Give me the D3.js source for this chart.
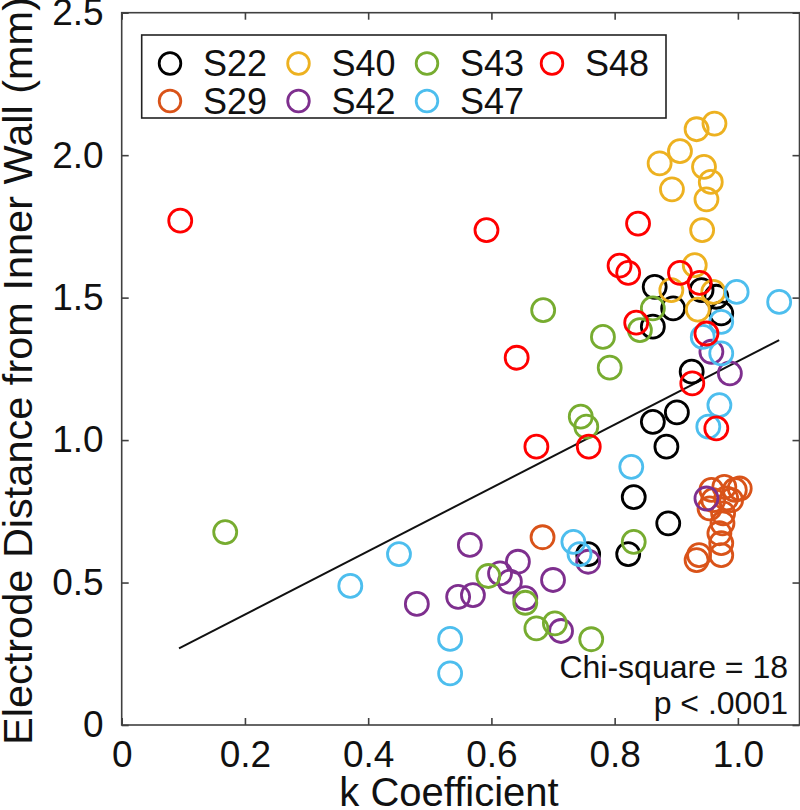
<!DOCTYPE html>
<html><head><meta charset="utf-8">
<script src="https://cdn.jsdelivr.net/npm/d3@7"></script>
<style>body{margin:0;background:#fff}svg{display:block}text{font-family:"Liberation Sans",Arial,sans-serif;fill:#111}</style>
</head><body>
<div id="chart"></div>
<script>
const seriesNames = ["S22","S29","S40","S42","S43","S47","S48"];
const seriesColors = ["#000000","#D95319","#EDB120","#7E2F8E","#77AC30","#4DBEEE","#FF0000"];
const S22 = [[0.865,1.538],[0.941,1.526],[0.965,1.503],[0.895,1.462],[0.973,1.445],[0.862,1.398],[0.925,1.240],[0.901,1.097],[0.862,1.064],[0.884,0.977],[0.831,0.800],[0.887,0.708],[0.757,0.600],[0.822,0.600]];
const S29 = [[0.683,0.659],[0.933,0.579],[0.937,0.596],[0.973,0.596],[0.973,0.638],[0.970,0.673],[0.975,0.708],[0.976,0.743],[0.954,0.760],[0.960,0.789],[0.981,0.795],[0.995,0.825],[1.003,0.830],[0.978,0.836],[0.957,0.825],[0.989,0.789]];
const S40 = [[0.962,2.111],[0.933,2.091],[0.906,2.014],[0.873,1.971],[0.945,1.959],[0.956,1.906],[0.893,1.880],[0.949,1.845],[0.942,1.737],[0.930,1.614],[0.892,1.526],[0.960,1.520],[0.935,1.458]];
const S42 = [[0.565,0.632],[0.643,0.573],[0.614,0.532],[0.630,0.503],[0.700,0.509],[0.570,0.456],[0.546,0.450],[0.479,0.425],[0.655,0.445],[0.713,0.330],[0.757,0.573],[0.957,1.310],[0.987,1.234],[0.949,0.795]];
const S43 = [[0.168,0.677],[0.684,1.456],[0.862,1.462],[0.841,1.386],[0.781,1.362],[0.792,1.254],[0.745,1.082],[0.754,1.047],[0.831,0.643],[0.595,0.523],[0.655,0.429],[0.673,0.339],[0.703,0.357],[0.762,0.301]];
const S47 = [[0.371,0.488],[0.450,0.600],[0.533,0.302],[0.533,0.181],[0.733,0.643],[0.743,0.600],[0.827,0.906],[0.952,1.047],[0.970,1.123],[0.973,1.304],[0.943,1.362],[0.973,1.415],[0.998,1.520],[1.067,1.485]];
const S48 = [[0.095,1.770],[0.592,1.737],[0.838,1.760],[0.808,1.612],[0.822,1.587],[0.906,1.587],[0.938,1.552],[0.835,1.412],[0.949,1.374],[0.641,1.289],[0.926,1.199],[0.673,0.977],[0.758,0.977],[0.965,1.041]];
const seriesData = [S22,S29,S40,S42,S43,S47,S48];
const fitLine = [[0.093,0.269],[1.067,1.351]];
const xTicks = [0,0.2,0.4,0.6,0.8,1.0];
const xTickLabels = ["0","0.2","0.4","0.6","0.8","1.0"];
const yTicks = [0,0.5,1.0,1.5,2.0,2.5];
const yTickLabels = ["0","0.5","1.0","1.5","2.0","2.5"];
const statLines = ["Chi-square = 18","p < .0001"];

const W=800,H=810;
const svg=d3.select("#chart").append("svg").attr("width",W).attr("height",H);
const x=d3.scaleLinear().domain([0,1.1]).range([121.7,799.5]);
const y=d3.scaleLinear().domain([0,2.5]).range([725,12.7]);
const axisColor="#404040";

svg.append("rect").attr("x",x(0)).attr("y",y(2.5)).attr("width",x(1.1)-x(0)).attr("height",y(0)-y(2.5))
  .attr("fill","none").attr("stroke",axisColor).attr("stroke-width",1.6);

const tl=7;
const xAxisB=d3.axisBottom(x).tickValues(xTicks).tickFormat((d,i)=>xTickLabels[i]).tickSizeInner(-tl).tickSizeOuter(0).tickPadding(16);
const gx=svg.append("g").attr("transform",`translate(0,${y(0)})`).call(xAxisB);
const xAxisT=d3.axisTop(x).tickValues(xTicks).tickFormat("").tickSizeInner(-tl).tickSizeOuter(0);
const gxt=svg.append("g").attr("transform",`translate(0,${y(2.5)})`).call(xAxisT);
const yAxisL=d3.axisLeft(y).tickValues(yTicks).tickFormat((d,i)=>yTickLabels[i]).tickSizeInner(-tl).tickSizeOuter(0).tickPadding(18);
const gy=svg.append("g").attr("transform",`translate(${x(0)},0)`).call(yAxisL);
const yAxisR=d3.axisRight(y).tickValues(yTicks).tickFormat("").tickSizeInner(-tl).tickSizeOuter(0);
const gyr=svg.append("g").attr("transform",`translate(${x(1.1)},0)`).call(yAxisR);
[gx,gxt,gy,gyr].forEach(a=>{a.select(".domain").remove();a.selectAll("line").attr("stroke",axisColor).attr("stroke-width",1.6);});
[gx,gy].forEach(a=>a.selectAll("text").attr("font-size",37).attr("fill","#111").attr("font-family","Liberation Sans, Arial, sans-serif"));

svg.append("line").attr("x1",x(fitLine[0][0])).attr("y1",y(fitLine[0][1])).attr("x2",x(fitLine[1][0])).attr("y2",y(fitLine[1][1]))
  .attr("stroke","#111").attr("stroke-width",2);

seriesData.forEach((arr,i)=>{
  svg.append("g").selectAll("circle").data(arr).join("circle")
   .attr("cx",d=>x(d[0])).attr("cy",d=>y(d[1])).attr("r",11.5)
   .attr("fill","none").attr("stroke",seriesColors[i]).attr("stroke-width",2.8);
});

const statY=[678,714];
statLines.forEach((t,i)=>{
  svg.append("text").attr("x",788).attr("y",statY[i]).attr("text-anchor","end").attr("font-size",32).text(t);
});

svg.append("text").attr("x",449).attr("y",806).attr("text-anchor","middle").attr("font-size",40).text("k Coefficient");
svg.append("text").attr("transform","translate(32,371) rotate(-90)").attr("text-anchor","middle").attr("font-size",41.5).text("Electrode Distance from Inner Wall (mm)");

const lg=svg.append("g");
lg.append("rect").attr("x",141.7).attr("y",35).attr("width",524.3).attr("height",83).attr("fill","#fff").attr("stroke","#222").attr("stroke-width",1.6);
const colX=[170,298.5,427,552];
const rowY=[63.5,101];
seriesNames.forEach((n,i)=>{
  const c=Math.floor(i/2), r=i%2;
  lg.append("circle").attr("cx",colX[c]).attr("cy",rowY[r]).attr("r",10.8).attr("fill","none").attr("stroke",seriesColors[i]).attr("stroke-width",2.8);
  lg.append("text").attr("x",colX[c]+33).attr("y",rowY[r]).attr("dy","0.36em").attr("font-size",36).text(n);
});
</script>
</body></html>
